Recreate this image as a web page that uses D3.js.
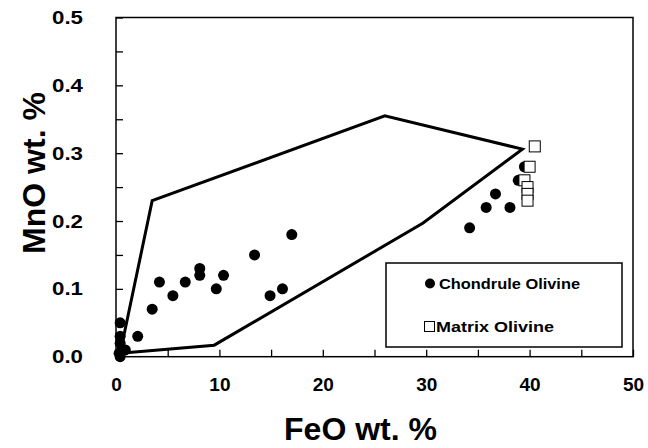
<!DOCTYPE html>
<style>
  body { margin: 0; background: #fff; }
  text { font-family: "Liberation Sans", Arial, sans-serif; font-weight: bold; }
  .axis .domain { display: none; }
</style>
<svg width="648" height="448"></svg>
<script src="https://d3js.org/d3.v7.min.js"></script>
<script>
  // FeO / MnO wt. % of olivine
  var chondruleFeO = [0.4, 0.4, 0.4, 0.6, 0.9, 0.4, 0.3, 2.1, 3.5, 4.2, 5.5, 6.7, 8.1, 8.1, 9.7, 10.4, 13.4, 14.9, 16.1, 17.0, 34.2, 35.8, 36.7, 38.1, 38.9, 39.5];
  var chondruleMnO = [0.05, 0.03, 0.02, 0.01, 0.01, 0.0, 0.005, 0.03, 0.07, 0.11, 0.09, 0.11, 0.13, 0.12, 0.10, 0.12, 0.15, 0.09, 0.10, 0.18, 0.19, 0.22, 0.24, 0.22, 0.26, 0.28];
  var matrixFeO = [40.5, 40.0, 39.5, 39.8, 39.8, 39.8];
  var matrixMnO = [0.31, 0.28, 0.26, 0.25, 0.24, 0.23];

  // outline field (FeO, MnO)
  var fieldFeO = [0.4, 9.5, 29.7, 39.3, 26.0, 3.5, 0.4];
  var fieldMnO = [0.005, 0.017, 0.197, 0.306, 0.355, 0.23, 0.005];

  var xTicks = [0, 5, 10, 15, 20, 25, 30, 35, 40, 45, 50];
  var yTicks = [0, 0.05, 0.1, 0.15, 0.2, 0.25, 0.3, 0.35, 0.4, 0.45, 0.5];

  var svg = d3.select("svg"),
    plotLeft = 116, plotRight = 633, plotTop = 17.5, plotBottom = 356.7;

  var x = d3.scaleLinear().domain([0, 50]).range([plotLeft, plotRight]);
  var y = d3.scaleLinear().domain([0, 0.5]).range([plotBottom, plotTop]);

  // plot frame
  svg.append("rect")
    .attr("x", plotLeft).attr("y", plotTop)
    .attr("width", plotRight - plotLeft).attr("height", plotBottom - plotTop)
    .attr("fill", "none").attr("stroke", "#000").attr("stroke-width", 1.5);

  // axes with inward ticks
  var xAxis = svg.append("g")
    .attr("class", "axis")
    .attr("transform", "translate(0," + plotBottom + ")")
    .call(d3.axisBottom(x).tickValues(xTicks).tickSize(-7).tickPadding(21)
      .tickFormat(function(d) { return d % 10 === 0 ? d : ""; }));
  xAxis.selectAll("line").attr("stroke-width", 1.3);
  xAxis.selectAll("text").attr("font-size", 19).attr("fill", "#000");

  var yAxis = svg.append("g")
    .attr("class", "axis")
    .attr("transform", "translate(" + plotLeft + ",0)")
    .call(d3.axisLeft(y).tickValues(yTicks).tickSize(-7).tickPadding(33)
      .tickFormat(function(d) { return Math.round(d * 100) % 10 === 0 ? d3.format(".1f")(d) : ""; }));
  yAxis.selectAll("line").attr("stroke-width", 1.3);
  yAxis.selectAll("text").attr("font-size", 19).attr("fill", "#000")
    .filter(function() { return this.textContent !== ""; })
    .attr("textLength", 31).attr("lengthAdjust", "spacingAndGlyphs");

  // field outline
  var pts = fieldFeO.map(function(d, i) { return [d, fieldMnO[i]]; });
  svg.append("path")
    .datum(pts)
    .attr("fill", "none")
    .attr("stroke", "#000")
    .attr("stroke-width", 3)
    .attr("stroke-linejoin", "miter")
    .attr("d", d3.line().x(function(d) { return x(d[0]); }).y(function(d) { return y(d[1]); }));

  // chondrule olivine
  svg.append("g")
    .selectAll("circle")
    .data(chondruleFeO)
    .enter()
    .append("circle")
    .attr("cx", function(d) { return x(d); })
    .attr("cy", function(d, i) { return y(chondruleMnO[i]); })
    .attr("r", 5.5)
    .attr("fill", "#000");

  // matrix olivine
  svg.append("g")
    .selectAll("rect")
    .data(matrixFeO)
    .enter()
    .append("rect")
    .attr("x", function(d) { return x(d) - 5.5; })
    .attr("y", function(d, i) { return y(matrixMnO[i]) - 5.5; })
    .attr("width", 11)
    .attr("height", 11)
    .attr("fill", "#fff")
    .attr("stroke", "#000")
    .attr("stroke-width", 1);

  // legend
  var legend = svg.append("g");
  legend.append("rect")
    .attr("x", 386).attr("y", 263)
    .attr("width", 236).attr("height", 84)
    .attr("fill", "#fff").attr("stroke", "#000").attr("stroke-width", 1.5);
  legend.append("circle")
    .attr("cx", 430).attr("cy", 283.5).attr("r", 5).attr("fill", "#000");
  legend.append("text")
    .attr("x", 439).attr("y", 289).attr("font-size", 15)
    .attr("textLength", 141).attr("lengthAdjust", "spacingAndGlyphs")
    .text("Chondrule Olivine");
  legend.append("rect")
    .attr("x", 424.5).attr("y", 321.5).attr("width", 10).attr("height", 10)
    .attr("fill", "#fff").attr("stroke", "#000").attr("stroke-width", 1);
  legend.append("text")
    .attr("x", 436).attr("y", 332).attr("font-size", 15)
    .attr("textLength", 118).attr("lengthAdjust", "spacingAndGlyphs")
    .text("Matrix Olivine");

  // axis titles
  svg.append("text")
    .attr("x", (plotLeft + plotRight) / 2 - 14)
    .attr("y", 440)
    .attr("text-anchor", "middle")
    .attr("font-size", 32)
    .text("FeO wt. %");
  svg.append("text")
    .attr("transform", "translate(45," + 173 + ") rotate(-90)")
    .attr("text-anchor", "middle")
    .attr("font-size", 32)
    .text("MnO wt. %");
</script>
